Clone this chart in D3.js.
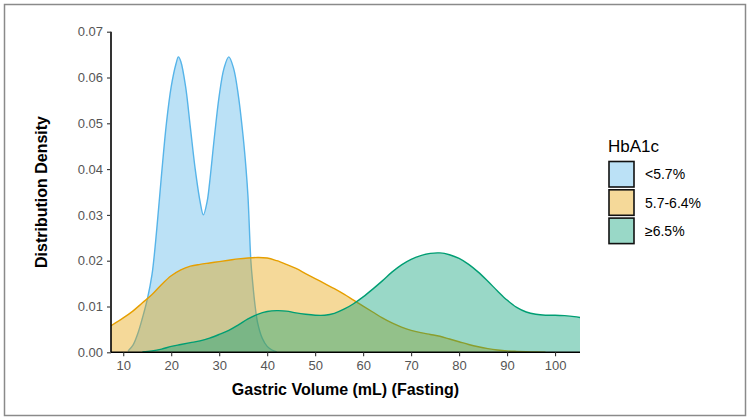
<!DOCTYPE html>
<html>
<head>
<meta charset="utf-8">
<script src="https://cdn.jsdelivr.net/npm/d3@7"></script>
<style>
  body { margin: 0; background: #fff; }
  svg { display: block; font-family: "Liberation Sans", Arial, sans-serif; }
</style>
</head>
<body>
<svg id="chart" width="750" height="420"></svg>
<script>
// groups in draw order
const groups = ['<5.7%', '5.7-6.4%', '≥6.5%'];
const lineColors = ['#56B4E9', '#E69F00', '#009E73'];
const fillColors = ['#56B4E9', '#E69F00', '#009E73'];

// estimated density curves
const lowX = [11, 12, 13, 14, 15, 16, 17, 18, 19, 20, 21, 21.5, 22, 23, 24, 25, 26, 26.7, 27.5, 28, 29, 30, 31, 32, 33, 34, 35, 35.6, 36, 36.6, 37, 37.5, 38, 39, 40, 41, 42];
const lowY = [0.0003, 0.0015, 0.004, 0.0075, 0.0115, 0.017, 0.027, 0.039, 0.050, 0.058, 0.063, 0.0645, 0.0635, 0.058, 0.049, 0.040, 0.033, 0.030, 0.033, 0.037, 0.047, 0.056, 0.062, 0.0645, 0.062, 0.056, 0.047, 0.040, 0.034, 0.020, 0.015, 0.010, 0.0065, 0.003, 0.0013, 0.0005, 0.0001];

const midX = [7.45, 10, 12, 14, 16, 18, 20, 22, 24, 26, 28, 30, 32, 34, 36, 38, 40, 42, 44, 46, 48, 50, 52, 54, 56, 58, 60, 62, 64, 66, 68, 70, 72, 74, 76, 78, 80, 82, 84, 86, 88, 90, 92, 95, 98];
const midY = [0.0058, 0.0075, 0.009, 0.0108, 0.0126, 0.0148, 0.0167, 0.0180, 0.0188, 0.0192, 0.0195, 0.0198, 0.0201, 0.0204, 0.0206, 0.0207, 0.0206, 0.0200, 0.0192, 0.0183, 0.0172, 0.0161, 0.0150, 0.0139, 0.0127, 0.0114, 0.0101, 0.0088, 0.0075, 0.0064, 0.0055, 0.0048, 0.0043, 0.0039, 0.0035, 0.0029, 0.0023, 0.0017, 0.0012, 0.0008, 0.0005, 0.0003, 0.0002, 0.0001, 0];

const highX = [14, 16, 18, 20, 22, 24, 26, 28, 30, 32, 34, 36, 38, 40, 42, 44, 46, 48, 50, 52, 54, 56, 58, 60, 62, 64, 66, 68, 70, 72, 74, 76, 78, 80, 82, 84, 86, 88, 90, 92, 94, 96, 98, 100, 102, 104, 105.2];
const highY = [0.0001, 0.0003, 0.0007, 0.0013, 0.0017, 0.0021, 0.0025, 0.0031, 0.0039, 0.0048, 0.0060, 0.0073, 0.0083, 0.0089, 0.0091, 0.0090, 0.0086, 0.0083, 0.0081, 0.0081, 0.0085, 0.0094, 0.0106, 0.0121, 0.0138, 0.0156, 0.0175, 0.0191, 0.0203, 0.0211, 0.0216, 0.0217, 0.0213, 0.0205, 0.0192, 0.0175, 0.0155, 0.0134, 0.0114, 0.0098, 0.0088, 0.0083, 0.0081, 0.0081, 0.0080, 0.0078, 0.0076];

const xTicks = [10, 20, 30, 40, 50, 60, 70, 80, 90, 100];
const yTicks = [0, 0.01, 0.02, 0.03, 0.04, 0.05, 0.06, 0.07];

const series = [
  lowX.map((x, i) => [x, lowY[i]]),
  midX.map((x, i) => [x, midY[i]]),
  highX.map((x, i) => [x, highY[i]])
];

const svg = d3.select('#chart');
const pLeft = 111, pRight = 580, pTop = 31.7, pBottom = 352.3;

// outer frame
svg.append('rect')
  .attr('x', 4.5).attr('y', 4.5).attr('width', 741).attr('height', 411)
  .attr('fill', 'none').attr('stroke', '#8a8a8a').attr('stroke-width', 1.5);

const x = d3.scaleLinear().domain([7.45, 105.2]).range([pLeft, pRight]);
const y = d3.scaleLinear().domain([0, 0.07]).range([pBottom, pTop]);

svg.append('clipPath').attr('id', 'panel')
  .append('rect').attr('x', pLeft).attr('y', 0).attr('width', pRight - pLeft).attr('height', pBottom);

const area = d3.area()
  .x(d => x(d[0])).y0(y(0)).y1(d => y(d[1]))
  .curve(d3.curveCatmullRom);
const line = d3.line()
  .x(d => x(d[0])).y(d => y(d[1]))
  .curve(d3.curveCatmullRom);

const plot = svg.append('g').attr('clip-path', 'url(#panel)');
series.forEach((pts, i) => {
  plot.append('path').attr('d', area(pts))
    .attr('fill', fillColors[i]).attr('fill-opacity', 0.4);
  plot.append('path').attr('d', line(pts))
    .attr('fill', 'none').attr('stroke', lineColors[i]).attr('stroke-width', 1.4);
});

// axes
const xAxis = svg.append('g').attr('transform', `translate(0,${pBottom})`)
  .call(d3.axisBottom(x).tickValues(xTicks).tickSize(4).tickPadding(4));
const yAxis = svg.append('g').attr('transform', `translate(${pLeft},0)`)
  .call(d3.axisLeft(y).tickValues(yTicks).tickFormat(d3.format('.2f')).tickSize(4).tickPadding(4));

[xAxis, yAxis].forEach(g => {
  g.select('.domain').attr('stroke', '#000').attr('stroke-width', 1.6);
  g.selectAll('.tick line').attr('stroke', '#333').attr('stroke-width', 1.1);
  g.selectAll('.tick text').attr('fill', '#555')
    .style('font-size', '13px').style('font-family', '"Liberation Sans", Arial, sans-serif');
});
xAxis.select('.domain').attr('d', `M${pLeft},0H${pRight}`);
yAxis.select('.domain').attr('d', `M0,${pBottom}V${pTop}`);

// titles
svg.append('text')
  .attr('x', (pLeft + pRight) / 2).attr('y', 395)
  .attr('text-anchor', 'middle')
  .style('font-size', '16px').style('font-weight', 'bold')
  .text('Gastric Volume (mL) (Fasting)');

svg.append('text')
  .attr('transform', `translate(47,${(pTop + pBottom) / 2}) rotate(-90)`)
  .attr('text-anchor', 'middle')
  .style('font-size', '16px').style('font-weight', 'bold')
  .text('Distribution Density');

// legend
const legend = svg.append('g');
legend.append('text')
  .attr('x', 608).attr('y', 151.5)
  .style('font-size', '17px')
  .text('HbA1c');

groups.forEach((g, i) => {
  const ky = 161.5 + i * 28.3;
  legend.append('rect')
    .attr('x', 609).attr('y', ky).attr('width', 25).attr('height', 25.5)
    .attr('fill', fillColors[i]).attr('fill-opacity', 0.4)
    .attr('stroke', '#111').attr('stroke-width', 1.6);
  legend.append('text')
    .attr('x', 645).attr('y', ky + 13).attr('dy', '0.35em')
    .style('font-size', '14px')
    .text(g);
});
</script>
</body>
</html>
